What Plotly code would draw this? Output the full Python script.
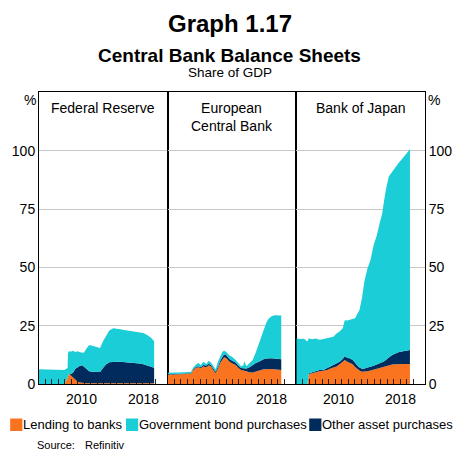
import plotly.graph_objects as go
from plotly.subplots import make_subplots

# ---------------- data (share of GDP, %) ----------------
panel_titles = ["Federal Reserve", "European<br>Central Bank", "Bank of Japan"]
series_names = ["Lending to banks", "Government bond purchases", "Other asset purchases"]
x_tick_labels = ["2010", "2018"]
x_label_pos = [2010.5, 2018.5]
y_tick_labels = ["0", "25", "50", "75", "100"]

fed_t = [2005.0, 2005.8, 2006.5, 2007.2, 2007.8, 2008.3, 2008.5, 2008.7, 2008.75, 2008.9,
         2009.1, 2009.4, 2009.7, 2010.0, 2010.3, 2010.6, 2010.8, 2011.1, 2011.5, 2011.9,
         2012.4, 2012.9, 2013.3, 2013.7, 2014.1, 2014.6, 2015.0, 2015.5, 2016.0, 2016.5,
         2017.0, 2017.5, 2018.0, 2018.5, 2019.0, 2019.5, 2019.9]
fed_lending = [0, 0, 0, 0, 0, 0, 1.2, 2.8, 3.2, 4.5,
               3.8, 2.8, 1.8, 1.0, 0.6, 0.4, 0.4, 0.3, 0.3, 0.3,
               0.3, 0.3, 0.3, 0.3, 0.3, 0.3, 0.3, 0.3, 0.3, 0.3,
               0.3, 0.3, 0.3, 0.3, 0.3, 0.3, 0.3]
fed_other = [0, 0, 0, 0, 0, 0, 0, 0, 0, 0,
             0.5, 2.0, 4.7, 6.3, 7.2, 7.6, 7.0, 6.0, 5.2, 5.0,
             4.8, 4.9, 6.7, 8.2, 9.0, 9.3, 9.3, 9.2, 9.1, 9.0,
             8.9, 8.7, 8.5, 8.2, 7.7, 7.2, 6.7]
fed_govt = [6.3, 6.3, 6.2, 6.2, 6.0, 6.0, 5.3, 4.0, 10.0, 9.7,
            9.5, 9.5, 7.2, 6.8, 5.8, 5.5, 6.0, 8.7, 11.2, 11.1,
            10.8, 10.3, 11.5, 12.5, 13.7, 14.3, 14.2, 14.0, 13.8, 13.7,
            13.6, 13.5, 13.5, 13.4, 13.0, 12.3, 11.3]

ecb_t = [2005.0, 2005.6, 2006.2, 2006.8, 2007.4, 2008.0, 2008.3, 2008.7, 2009.0, 2009.3,
         2009.6, 2010.0, 2010.3, 2010.6, 2010.9, 2011.2, 2011.5, 2011.8, 2012.1, 2012.3,
         2012.6, 2013.0, 2013.4, 2013.8, 2014.2, 2014.5, 2014.8, 2014.9, 2015.2, 2015.6,
         2016.0, 2016.4, 2016.8, 2017.1, 2017.4, 2017.7, 2018.0, 2018.4, 2018.8, 2019.2,
         2019.7]
ecb_lending = [4.0, 4.1, 4.0, 4.2, 4.3, 4.4, 6.0, 7.0, 7.2, 6.8,
               7.5, 7.2, 8.0, 7.5, 6.0, 4.6, 6.5, 9.0, 10.5, 11.5,
               11.0, 9.5, 8.8, 8.2, 6.8, 6.0, 5.8, 5.7, 5.3, 5.0,
               4.9, 5.2, 5.7, 6.0, 6.3, 6.4, 6.4, 6.4, 6.3, 6.2,
               6.0]
ecb_other = [0.2, 0.2, 0.2, 0.2, 0.2, 0.2, 0.3, 0.4, 0.4, 0.4,
             0.6, 0.7, 0.7, 0.7, 0.7, 0.7, 0.8, 1.0, 1.2, 1.3,
             1.3, 1.2, 1.1, 1.0, 0.9, 0.9, 1.0, 1.1, 1.4, 2.2,
             3.3, 3.8, 3.9, 4.2, 4.3, 4.5, 4.6, 4.6, 4.6, 4.5,
             4.6]
ecb_govt = [0.6, 0.6, 0.5, 0.6, 0.6, 0.6, 0.7, 1.1, 1.4, 0.8,
            1.4, 0.7, 1.3, 1.0, 1.1, 0.9, 2.2, 2.0, 2.1, 1.5,
            1.4, 1.5, 1.6, 1.1, 0.9, 0.7, 1.2, 3.0, 0.9, 1.8,
            2.1, 4.5, 7.8, 10.3, 12.6, 14.9, 16.8, 18.0, 18.6, 18.8,
            18.8]

boj_t = [2005.0, 2005.5, 2006.0, 2006.42, 2006.63, 2007.0, 2007.5, 2008.0, 2008.5, 2009.0,
         2009.5, 2009.8, 2010.2, 2010.6, 2011.0, 2011.27, 2011.6, 2011.9, 2012.3, 2012.6,
         2012.96, 2013.17, 2013.5, 2013.8, 2014.2, 2014.6, 2015.0, 2015.4, 2015.8, 2016.1,
         2016.34, 2016.6, 2016.97, 2017.4, 2017.8, 2018.2, 2018.65, 2019.2, 2019.7]
boj_lending = [0, 0, 0, 0, 4.3, 4.5, 5.0, 5.5, 5.7, 6.0,
               6.8, 7.1, 7.5, 8.5, 9.5, 10.3, 9.5, 9.1, 8.5, 7.3,
               6.3, 5.8, 5.3, 5.3, 5.5, 5.8, 6.2, 6.7, 7.0, 7.4,
               7.5, 7.8, 8.2, 8.4, 8.5, 8.6, 8.6, 8.6, 8.6]
boj_other = [0, 0, 0, 0, 0.3, 0.5, 0.6, 0.5, 0.3, 0.8,
             0.9, 1.1, 1.0, 1.0, 1.2, 1.7, 1.7, 1.9, 1.8, 1.7,
             1.4, 1.3, 1.2, 1.3, 1.4, 1.5, 1.6, 1.7, 1.8, 1.9,
             2.2, 2.7, 3.2, 4.0, 4.5, 5.0, 5.3, 5.7, 6.0]
boj_govt = [19.6, 19.3, 19.4, 18.2, 15.0, 14.2, 13.9, 13.0, 13.3, 12.8,
            12.1, 12.1, 13.2, 13.0, 13.2, 15.4, 16.0, 16.6, 17.5, 19.2,
            22.8, 24.7, 30.5, 37.3, 42.7, 45.9, 51.8, 55.2, 60.5, 63.6,
            68.6, 73.1, 77.6, 78.6, 80.3, 81.1, 82.5, 84.4, 86.1]

# ---------------- styling ----------------
ORANGE = "#FA731E"
CYAN = "#1ACDD6"
NAVY = "#002B5C"
FONT = "Liberation Sans, Arial, sans-serif"

W, H = 464, 451
ML, MR, MT, MB = 38, 31, 92, 67
PW = W - ML - MR
PH = H - MT - MB


def pxx(x):
    return (x - ML) / PW


def pxy(y):
    return (H - MB - y) / PH


fig = make_subplots(rows=1, cols=3, shared_yaxes=True, horizontal_spacing=0)

panels = [
    ("fed", fed_t, fed_lending, fed_other, fed_govt),
    ("ecb", ecb_t, ecb_lending, ecb_other, ecb_govt),
    ("boj", boj_t, boj_lending, boj_other, boj_govt),
]
for i, (key, t, lend, oth, gov) in enumerate(panels, start=1):
    for name, vals, col in [(series_names[0], lend, ORANGE),
                            (series_names[2], oth, NAVY),
                            (series_names[1], gov, CYAN)]:
        fig.add_trace(go.Scatter(x=t, y=vals, mode="lines", stackgroup=key,
                                 line=dict(width=0, color=col), fillcolor=col,
                                 name=name, showlegend=False, hoverinfo="skip"),
                      row=1, col=i)

tick_marks = [2005.0 + k * 0.839 for k in range(1, 19)]

for i in range(1, 4):
    fig.update_xaxes(range=[2005.0, 2021.65], tickmode="array",
                     tickvals=tick_marks, ticktext=[""] * len(tick_marks),
                     ticks="inside", ticklen=5, tickwidth=1, tickcolor="#222",
                     showgrid=False, zeroline=False, layer="above traces",
                     showline=True, linecolor="#000", linewidth=1, mirror=True,
                     row=1, col=i)
    fig.update_yaxes(range=[0, 125.3], tickmode="array", tickvals=[0, 25, 50, 75, 100],
                     ticktext=y_tick_labels, ticks="", showgrid=True,
                     gridcolor="#C8C8C8", gridwidth=1, zeroline=False,
                     showline=True, linecolor="#000", linewidth=1, mirror=True,
                     tickfont=dict(family=FONT, size=14, color="#000"),
                     row=1, col=i)
fig.update_yaxes(showticklabels=True, side="right", row=1, col=3)

ann = []
# x tick labels (centred mid-year, as in the original)
for i in range(1, 4):
    xr = "x" if i == 1 else f"x{i}"
    for lab, pos in zip(x_tick_labels, x_label_pos):
        ann.append(dict(text=lab, x=pos, y=pxy(399), xref=xr, yref="paper", showarrow=False,
                        font=dict(family=FONT, size=14, color="#000"),
                        xanchor="center", yanchor="middle"))
# titles
ann.append(dict(text="<b>Graph 1.17</b>", x=pxx(233), y=pxy(24), xref="paper", yref="paper",
                showarrow=False, font=dict(family=FONT, size=24, color="#000"),
                xanchor="center", yanchor="middle"))
ann.append(dict(text="<b>Central Bank Balance Sheets</b>", x=pxx(233), y=pxy(55), xref="paper",
                yref="paper", showarrow=False, font=dict(family=FONT, size=19, color="#000"),
                xanchor="center", yanchor="middle"))
ann.append(dict(text="Share of GDP", x=pxx(233), y=pxy(72.5), xref="paper", yref="paper",
                showarrow=False, font=dict(family=FONT, size=13.5, color="#000"),
                xanchor="center", yanchor="middle"))
# % unit labels
ann.append(dict(text="%", x=pxx(29), y=pxy(100), xref="paper", yref="paper", showarrow=False,
                font=dict(family=FONT, size=14, color="#000"), xanchor="center", yanchor="middle"))
ann.append(dict(text="%", x=pxx(442), y=pxy(100), xref="paper", yref="paper", showarrow=False,
                font=dict(family=FONT, size=14, color="#000"), xanchor="center", yanchor="middle"))
# panel titles
for i, (title, yc) in enumerate(zip(panel_titles, [108, 117, 108]), start=1):
    xr = "x domain" if i == 1 else f"x{i} domain"
    ann.append(dict(text=title, x=0.5, y=pxy(yc), xref=xr, yref="paper", showarrow=False,
                    font=dict(family=FONT, size=14, color="#000"),
                    xanchor="center", yanchor="middle"))

# custom legend
shapes = []
legend_items = [(series_names[0], ORANGE, 8.5), (series_names[1], CYAN, 127), (series_names[2], NAVY, 314.5)]
for name, col, x0 in legend_items:
    shapes.append(dict(type="rect", xref="paper", yref="paper", x0=pxx(x0), x1=pxx(x0 + 12.5),
                       y0=pxy(431), y1=pxy(418.5), fillcolor=col, line=dict(width=0)))
    ann.append(dict(text=name, x=pxx(x0 + 11), y=pxy(424.7), xref="paper", yref="paper",
                    showarrow=False, font=dict(family=FONT, size=13, color="#000"),
                    xanchor="left", yanchor="middle"))
# source
ann.append(dict(text="Source:", x=pxx(34), y=pxy(445), xref="paper", yref="paper",
                showarrow=False, font=dict(family=FONT, size=11, color="#000"),
                xanchor="left", yanchor="middle"))
ann.append(dict(text="Refinitiv", x=pxx(83), y=pxy(445), xref="paper", yref="paper",
                showarrow=False, font=dict(family=FONT, size=11, color="#000"),
                xanchor="left", yanchor="middle"))

fig.update_layout(width=W, height=H, margin=dict(l=ML, r=MR, t=MT, b=MB, pad=0),
                  paper_bgcolor="#fff", plot_bgcolor="#fff", showlegend=False,
                  annotations=ann, shapes=shapes, font=dict(family=FONT, color="#000"))

fig.write_html("out.html", config={"displayModeBar": False},
               post_script="document.body.style.margin='0';document.body.style.padding='0';")
